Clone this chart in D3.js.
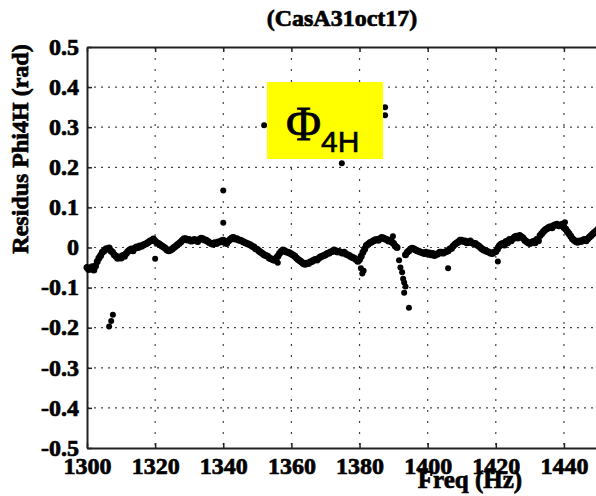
<!DOCTYPE html>
<html>
<head>
<meta charset="utf-8">
<script src="https://cdn.jsdelivr.net/npm/d3@7"></script>
<style>
  html, body { margin: 0; padding: 0; background: #fff; }
  svg { display: block; }
</style>
</head>
<body>
<svg id="chart" width="596" height="496"></svg>
<script>
// Phase residuals of the 4H harmonic, sampled every 0.5 Hz from 1300 Hz
const freqStart = 1300;
const freqStep = 0.5;
const residuals = [
  -0.050, -0.055, -0.052, -0.048, -0.056, -0.046, -0.035, -0.026, -0.020, -0.012,
  -0.008, -0.004, -0.003, -0.001, -0.008, -0.012, -0.018, -0.022, -0.027, -0.024,
  -0.026, -0.020, -0.022, -0.015, -0.010, -0.006, -0.004, -0.008, -0.002, 0.001,
  0.000, 0.004, 0.003, 0.006, 0.008, 0.010, 0.013, 0.016, 0.018, 0.021,
  0.016, 0.012, 0.010, 0.007, 0.004, 0.001, -0.002, -0.006, -0.008, -0.006,
  -0.004, 0.000, 0.003, 0.007, 0.010, 0.014, 0.018, 0.022, 0.022, 0.019,
  0.020, 0.016, 0.017, 0.020, 0.018, 0.015, 0.020, 0.023, 0.022, 0.019,
  0.018, 0.015, 0.012, 0.010, 0.008, 0.012, 0.010, 0.014, 0.014, 0.017,
  0.018, 0.013, 0.010, 0.016, 0.020, 0.024, 0.025, 0.021, 0.022, 0.019,
  0.018, 0.016, 0.014, 0.012, 0.010, 0.008, 0.006, 0.003, 0.001, -0.003,
  -0.005, -0.009, -0.012, -0.015, -0.018, -0.020, -0.022, -0.026, -0.028, -0.030,
  -0.032, -0.027, -0.022, -0.015, -0.010, -0.006, -0.008, -0.011, -0.012, -0.014,
  -0.016, -0.019, -0.022, -0.026, -0.030, -0.033, -0.036, -0.040, -0.042, -0.039,
  -0.040, -0.036, -0.035, -0.032, -0.030, -0.031, -0.027, -0.024, -0.022, -0.020,
  -0.018, -0.015, -0.014, -0.011, -0.010, -0.006, -0.008, -0.011, -0.010, -0.012,
  -0.014, -0.012, -0.016, -0.018, -0.020, -0.023, -0.025, -0.027, -0.030, -0.034,
  -0.030, -0.022, -0.012, -0.004, 0.005, 0.008, 0.012, 0.014, 0.016, 0.019,
  0.020, 0.018, 0.022, 0.025, 0.024, 0.021, 0.020, 0.016, 0.018, 0.014,
  0.010, 0.004, 0.000, null, null, null, null, -0.018, -0.012, -0.008,
  -0.004, -0.002, -0.004, -0.006, -0.008, -0.010, -0.012, -0.013, -0.015, -0.012,
  -0.016, -0.014, -0.018, -0.015, -0.020, -0.017, -0.016, -0.012, -0.012, -0.014,
  -0.012, -0.010, -0.008, -0.004, -0.002, 0.004, 0.008, 0.011, 0.014, 0.018,
  0.018, 0.015, 0.016, 0.012, 0.013, 0.016, 0.012, 0.010, 0.010, 0.006,
  0.004, 0.000, -0.004, -0.006, -0.008, -0.010, -0.012, -0.014, -0.015, -0.012,
  -0.010, -0.004, 0.004, 0.008, 0.010, 0.006, 0.015, 0.012, 0.020, 0.017,
  0.022, 0.026, 0.028, 0.024, 0.030, 0.027, 0.024, 0.018, 0.015, 0.012,
  0.010, 0.013, 0.015, 0.012, 0.020, 0.017, 0.030, 0.035, 0.040, 0.044,
  0.047, 0.050, 0.052, 0.049, 0.055, 0.057, 0.058, 0.054, 0.055, 0.058,
  0.050, 0.046, 0.040, 0.034, 0.028, 0.022, 0.018, 0.015, 0.013, 0.016,
  0.015, 0.018, 0.020, 0.017, 0.022, 0.026, 0.030, 0.034, 0.038, 0.041,
  0.045
];

// Isolated samples lying off the main trend
const strayFreq = [1306.5, 1307.1, 1307.6, 1320, 1340, 1340, 1352, 1356, 1374.8,
  1380.4, 1380.8, 1381.2, 1387.5, 1387.5, 1389.8, 1391.6, 1392, 1392.5, 1392.8,
  1393.1, 1393.5, 1393.1, 1394.5, 1406, 1420.6, 1440.3];
const strayValue = [-0.197, -0.183, -0.168, -0.028, 0.142, 0.062, 0.305, -0.038, 0.21,
  -0.052, -0.065, -0.058, 0.35, 0.33, 0.028, -0.032, -0.05, -0.062, -0.078,
  -0.087, -0.097, -0.113, -0.15, -0.052, -0.035, 0.063];

const xTicks = [1300, 1320, 1340, 1360, 1380, 1400, 1420, 1440];
const yTicks = [0.5, 0.4, 0.3, 0.2, 0.1, 0, -0.1, -0.2, -0.3, -0.4, -0.5];

const titleText = "(CasA31oct17)";
const xLabel = "Freq (Hz)";
const yLabel = "Residus Phi4H (rad)";

const svg = d3.select("#chart");
const plotLeft = 87, plotRight = 598, plotTop = 47, plotBottom = 448;

const x = d3.scaleLinear().domain([1300, 1450]).range([plotLeft, plotRight]);
const y = d3.scaleLinear().domain([-0.5, 0.5]).range([plotBottom, plotTop]);

const serif = "'Liberation Serif', 'Times New Roman', serif";

// Heavy bold serif text, slightly thickened with a thin outline
function heavy(sel, size) {
  return sel.attr("font-family", serif).attr("font-weight", "bold")
    .attr("font-size", size).attr("fill", "#000")
    .attr("stroke", "#000").attr("stroke-width", 0.7);
}

// Dotted grid
const grid = svg.append("g");
grid.selectAll("line.gx").data(xTicks.slice(1)).join("line")
  .attr("x1", d => x(d)).attr("x2", d => x(d))
  .attr("y1", plotTop).attr("y2", plotBottom)
  .attr("stroke", "#444").attr("stroke-width", 1.2)
  .attr("stroke-dasharray", "2,9");
grid.selectAll("line.gy").data(yTicks.filter(d => d !== 0.5 && d !== -0.5)).join("line")
  .attr("x1", plotLeft).attr("x2", plotRight)
  .attr("y1", d => y(d)).attr("y2", d => y(d))
  .attr("stroke", "#444").attr("stroke-width", 1.2)
  .attr("stroke-dasharray", "2,5");

// Axes with inward ticks; tick labels use a plain hyphen for negatives
const yFormat = d => d === 0 ? "0" : d.toFixed(1);
const xBottom = svg.append("g").attr("transform", `translate(0,${plotBottom})`)
  .call(d3.axisBottom(x).tickValues(xTicks).tickSizeInner(-5).tickSizeOuter(0).tickFormat(d3.format("d")));
const xTop = svg.append("g").attr("transform", `translate(0,${plotTop})`)
  .call(d3.axisTop(x).tickValues(xTicks).tickSizeInner(-5).tickSizeOuter(0).tickFormat(""));
const yLeft = svg.append("g").attr("transform", `translate(${plotLeft},0)`)
  .call(d3.axisLeft(y).tickValues(yTicks).tickSizeInner(-5).tickSizeOuter(0).tickFormat(yFormat));

[xBottom, xTop, yLeft].forEach(g => {
  g.select(".domain").attr("stroke", "#222").attr("stroke-width", 2);
  g.selectAll(".tick line").attr("stroke", "#222").attr("stroke-width", 1.5);
  heavy(g.selectAll(".tick text"), 24);
});
xBottom.selectAll(".tick text").attr("dy", "0.71em").attr("y", 9);
yLeft.selectAll(".tick text").attr("x", -8).attr("dy", "0.3em");

// Trend samples
const samples = residuals.map((v, i) => ({ f: freqStart + i * freqStep, v }))
  .filter(d => d.v !== null);
const strays = strayFreq.map((f, i) => ({ f, v: strayValue[i] }));

const plot = svg.append("g");
plot.selectAll("circle.s").data(samples).join("circle")
  .attr("cx", d => x(d.f)).attr("cy", d => y(d.v)).attr("r", 3.5).attr("fill", "#000");
plot.selectAll("circle.o").data(strays).join("circle")
  .attr("cx", d => x(d.f)).attr("cy", d => y(d.v)).attr("r", 3).attr("fill", "#000");

// Harmonic tag
const tag = svg.append("g");
tag.append("rect").attr("x", 267).attr("y", 82).attr("width", 116).attr("height", 77)
  .attr("fill", "#ffff00");
const tagText = tag.append("text").attr("x", 286).attr("y", 140).attr("fill", "#000");
tagText.append("tspan").attr("font-family", serif).attr("font-size", 48)
  .attr("stroke", "#000").attr("stroke-width", 0.8).text("Φ");
tagText.append("tspan").attr("font-family", "'Liberation Sans', Arial, sans-serif")
  .attr("font-size", 30).attr("dy", 12)
  .attr("stroke", "#000").attr("stroke-width", 0.6).text("4H");

// Titles
heavy(svg.append("text").attr("x", 342).attr("y", 26).attr("text-anchor", "middle"), 24)
  .text(titleText);
heavy(svg.append("text").attr("x", 470).attr("y", 488).attr("text-anchor", "middle"), 25)
  .text(xLabel);
heavy(svg.append("text").attr("transform", "translate(28,149) rotate(-90)")
  .attr("text-anchor", "middle"), 24)
  .text(yLabel);
</script>
</body>
</html>
